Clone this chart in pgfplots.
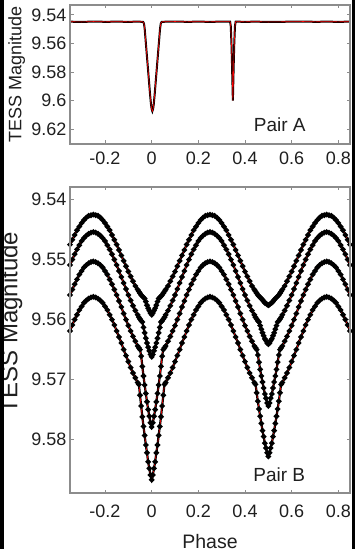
\documentclass[border=0pt]{standalone}
\usepackage{pgfplots}
\pgfplotsset{compat=1.18}
\usepackage{pgfplotstable}
\usepackage{fontspec}
\setmainfont{Liberation Sans}
\definecolor{axgray}{RGB}{140,140,140}
\definecolor{txt}{gray}{0.12}

\pgfplotstableread{
ph m
-0.350 9.5447
-0.300 9.5449
-0.250 9.5446
-0.200 9.5448
-0.150 9.5447
-0.100 9.5448
-0.060 9.5447
-0.037 9.5448
-0.033 9.5460
-0.030 9.5495
-0.027 9.5555
-0.022 9.5655
-0.017 9.5755
-0.012 9.5855
-0.007 9.5955
-0.003 9.6025
0.000 9.6060
0.003 9.6075
0.006 9.6060
0.009 9.6025
0.013 9.5955
0.018 9.5855
0.023 9.5755
0.028 9.5655
0.033 9.5555
0.036 9.5495
0.039 9.5460
0.043 9.5448
0.070 9.5447
0.100 9.5446
0.150 9.5448
0.200 9.5447
0.250 9.5448
0.300 9.5447
0.336 9.5447
0.339 9.5478
0.342 9.5600
0.344 9.5720
0.346 9.5860
0.348 9.6000
0.350 9.5860
0.352 9.5720
0.354 9.5600
0.357 9.5478
0.360 9.5447
0.400 9.5448
0.450 9.5447
0.500 9.5449
0.550 9.5448
0.600 9.5447
0.650 9.5446
0.700 9.5448
0.750 9.5447
0.800 9.5448
0.850 9.5447
}\pairA

\pgfplotstableread{
ph c1 c2 c3 c4
-0.35 9.5476 9.5510 9.5560 9.5620
-0.34 9.5468 9.5501 9.5551 9.5610
-0.33 9.5460 9.5492 9.5542 9.5601
-0.32 9.5452 9.5484 9.5534 9.5593
-0.31 9.5446 9.5477 9.5526 9.5585
-0.30 9.5440 9.5470 9.5520 9.5579
-0.29 9.5435 9.5465 9.5514 9.5573
-0.28 9.5431 9.5461 9.5510 9.5569
-0.27 9.5428 9.5458 9.5507 9.5566
-0.26 9.5427 9.5456 9.5505 9.5564
-0.25 9.5426 9.5455 9.5504 9.5563
-0.24 9.5427 9.5456 9.5505 9.5564
-0.23 9.5428 9.5458 9.5507 9.5566
-0.22 9.5431 9.5461 9.5510 9.5569
-0.21 9.5435 9.5465 9.5514 9.5573
-0.20 9.5440 9.5470 9.5520 9.5579
-0.19 9.5446 9.5477 9.5526 9.5585
-0.18 9.5452 9.5484 9.5534 9.5593
-0.17 9.5460 9.5492 9.5542 9.5601
-0.16 9.5468 9.5501 9.5551 9.5610
-0.15 9.5476 9.5510 9.5560 9.5620
-0.14 9.5485 9.5520 9.5570 9.5630
-0.13 9.5494 9.5530 9.5580 9.5640
-0.12 9.5503 9.5540 9.5591 9.5651
-0.11 9.5512 9.5550 9.5601 9.5661
-0.10 9.5521 9.5560 9.5611 9.5671
-0.09 9.5529 9.5569 9.5620 9.5681
-0.08 9.5537 9.5578 9.5629 9.5690
-0.07 9.5545 9.5586 9.5637 9.5698
-0.060 9.5551 9.5593 9.5645 9.5706
-0.055 9.5554 9.5597 9.5648 9.5709
-0.050 9.5557 9.5600 9.5651 9.5727
-0.045 9.5560 9.5603 9.5662 9.5745
-0.040 9.5562 9.5605 9.5679 9.5763
-0.035 9.5564 9.5614 9.5695 9.5779
-0.030 9.5566 9.5623 9.5710 9.5794
-0.025 9.5571 9.5632 9.5724 9.5810
-0.020 9.5577 9.5640 9.5738 9.5823
-0.015 9.5582 9.5647 9.5751 9.5838
-0.010 9.5586 9.5653 9.5762 9.5849
-0.005 9.5590 9.5659 9.5773 9.5860
0.000 9.5593 9.5663 9.5780 9.5868
0.005 9.5590 9.5659 9.5773 9.5860
0.010 9.5586 9.5653 9.5762 9.5849
0.015 9.5582 9.5647 9.5751 9.5838
0.020 9.5577 9.5640 9.5738 9.5823
0.025 9.5571 9.5632 9.5724 9.5810
0.030 9.5566 9.5623 9.5710 9.5794
0.035 9.5564 9.5614 9.5695 9.5779
0.040 9.5562 9.5605 9.5679 9.5763
0.045 9.5560 9.5603 9.5662 9.5745
0.050 9.5557 9.5600 9.5651 9.5727
0.055 9.5554 9.5597 9.5648 9.5709
0.060 9.5551 9.5593 9.5645 9.5706
0.07 9.5545 9.5586 9.5637 9.5698
0.08 9.5537 9.5578 9.5629 9.5690
0.09 9.5529 9.5569 9.5620 9.5681
0.10 9.5521 9.5560 9.5611 9.5671
0.11 9.5512 9.5550 9.5601 9.5661
0.12 9.5503 9.5540 9.5591 9.5651
0.13 9.5494 9.5530 9.5580 9.5640
0.14 9.5485 9.5520 9.5570 9.5630
0.15 9.5476 9.5510 9.5560 9.5620
0.16 9.5468 9.5501 9.5551 9.5610
0.17 9.5460 9.5492 9.5542 9.5601
0.18 9.5452 9.5484 9.5534 9.5593
0.19 9.5446 9.5477 9.5526 9.5585
0.20 9.5440 9.5470 9.5520 9.5579
0.21 9.5435 9.5465 9.5514 9.5573
0.22 9.5431 9.5461 9.5510 9.5569
0.23 9.5428 9.5458 9.5507 9.5566
0.24 9.5427 9.5456 9.5505 9.5564
0.25 9.5426 9.5455 9.5504 9.5563
0.26 9.5427 9.5456 9.5505 9.5564
0.27 9.5428 9.5458 9.5507 9.5566
0.28 9.5431 9.5461 9.5510 9.5569
0.29 9.5435 9.5465 9.5514 9.5573
0.30 9.5440 9.5470 9.5520 9.5579
0.31 9.5446 9.5477 9.5526 9.5585
0.32 9.5452 9.5484 9.5534 9.5593
0.33 9.5460 9.5492 9.5542 9.5601
0.34 9.5468 9.5501 9.5551 9.5610
0.35 9.5476 9.5510 9.5560 9.5620
0.36 9.5485 9.5520 9.5570 9.5630
0.37 9.5494 9.5530 9.5580 9.5640
0.38 9.5503 9.5540 9.5591 9.5651
0.39 9.5512 9.5550 9.5601 9.5661
0.40 9.5521 9.5560 9.5611 9.5671
0.41 9.5529 9.5569 9.5620 9.5681
0.42 9.5537 9.5578 9.5629 9.5690
0.43 9.5545 9.5586 9.5637 9.5698
0.440 9.5551 9.5593 9.5645 9.5706
0.445 9.5554 9.5597 9.5648 9.5709
0.450 9.5557 9.5600 9.5651 9.5723
0.455 9.5560 9.5603 9.5660 9.5737
0.460 9.5562 9.5605 9.5672 9.5750
0.465 9.5564 9.5611 9.5684 9.5762
0.470 9.5566 9.5617 9.5695 9.5774
0.475 9.5568 9.5623 9.5705 9.5786
0.480 9.5571 9.5628 9.5715 9.5796
0.485 9.5573 9.5633 9.5725 9.5807
0.490 9.5574 9.5636 9.5732 9.5815
0.495 9.5576 9.5640 9.5740 9.5823
0.500 9.5577 9.5642 9.5745 9.5829
0.505 9.5576 9.5640 9.5740 9.5823
0.510 9.5574 9.5636 9.5732 9.5815
0.515 9.5573 9.5633 9.5725 9.5807
0.520 9.5571 9.5628 9.5715 9.5796
0.525 9.5568 9.5623 9.5705 9.5786
0.530 9.5566 9.5617 9.5695 9.5774
0.535 9.5564 9.5611 9.5684 9.5762
0.540 9.5562 9.5605 9.5672 9.5750
0.545 9.5560 9.5603 9.5660 9.5737
0.550 9.5557 9.5600 9.5651 9.5723
0.555 9.5554 9.5597 9.5648 9.5709
0.560 9.5551 9.5593 9.5645 9.5706
0.57 9.5545 9.5586 9.5637 9.5698
0.58 9.5537 9.5578 9.5629 9.5690
0.59 9.5529 9.5569 9.5620 9.5681
0.60 9.5521 9.5560 9.5611 9.5671
0.61 9.5512 9.5550 9.5601 9.5661
0.62 9.5503 9.5540 9.5591 9.5651
0.63 9.5494 9.5530 9.5580 9.5640
0.64 9.5485 9.5520 9.5570 9.5630
0.65 9.5476 9.5510 9.5560 9.5620
0.66 9.5468 9.5501 9.5551 9.5610
0.67 9.5460 9.5492 9.5542 9.5601
0.68 9.5452 9.5484 9.5534 9.5593
0.69 9.5446 9.5477 9.5526 9.5585
0.70 9.5440 9.5470 9.5520 9.5579
0.71 9.5435 9.5465 9.5514 9.5573
0.72 9.5431 9.5461 9.5510 9.5569
0.73 9.5428 9.5458 9.5507 9.5566
0.74 9.5427 9.5456 9.5505 9.5564
0.75 9.5426 9.5455 9.5504 9.5563
0.76 9.5427 9.5456 9.5505 9.5564
0.77 9.5428 9.5458 9.5507 9.5566
0.78 9.5431 9.5461 9.5510 9.5569
0.79 9.5435 9.5465 9.5514 9.5573
0.80 9.5440 9.5470 9.5520 9.5579
0.81 9.5446 9.5477 9.5526 9.5585
0.82 9.5452 9.5484 9.5534 9.5593
0.83 9.5460 9.5492 9.5542 9.5601
0.84 9.5468 9.5501 9.5551 9.5610
0.85 9.5476 9.5510 9.5560 9.5620
}\pairB

\pgfplotsset{
  mystyle/.style={
    scale only axis, width=280bp,
    xmin=-0.35, xmax=0.85, y dir=reverse,
    axis on top,
    xtick={-0.2,0,0.2,0.4,0.6,0.8}, xticklabels={-0.2,0,0.2,0.4,0.6,0.8},
    axis line style={color=axgray, line width=1bp},
    every tick/.style={color=axgray, line width=1bp}, major tick length=3.5bp,
    tick label style={font=\fontsize{18bp}{20bp}\selectfont, text=txt},
  },
  datastyle/.style={black, line width=2.2bp, smooth, mark=*, mark size=1.5bp, mark options={draw=none, fill=black}},
  modelstyle/.style={red, line width=0.6bp, smooth},
}

\begin{document}
\begin{tikzpicture}
\path[use as bounding box] (0bp,0bp) rectangle (355bp,549bp);
\begin{axis}[mystyle,
  at={(70bp,405bp)}, anchor=south west, height=139bp,
  ymin=9.533, ymax=9.6305,
  ytick={9.54,9.56,9.58,9.6,9.62}, yticklabels={9.54,9.56,9.58,9.6,9.62},
  xticklabel shift=4bp,
  ylabel={TESS Magnitude},
  ylabel style={font=\fontsize{18bp}{20bp}\selectfont, text=txt, at={(axis description cs:-0.19,0.5)}, anchor=center},
]
\addplot[black, line width=2bp] table[x=ph, y=m]{\pairA};
\addplot[red, line width=0.6bp] table[x=ph, y=m]{\pairA};
\node[font=\fontsize{19bp}{21bp}\selectfont, text=txt] at (axis cs:0.549,9.6172) {Pair A};
\end{axis}
\begin{axis}[mystyle,
  at={(70bp,56bp)}, anchor=south west, height=306bp,
  ymin=9.538, ymax=9.589,
  ytick={9.54,9.55,9.56,9.57,9.58}, yticklabels={9.54,9.55,9.56,9.57,9.58},
  xticklabel shift=8bp,
  xlabel={Phase},
  xlabel style={font=\fontsize{19.5bp}{21bp}\selectfont, text=txt, at={(axis description cs:0.5,-0.18)}, anchor=base},
  ylabel={TESS Magnitude},
  ylabel style={font=\fontsize{24bp}{26bp}\selectfont, text=txt, at={(axis description cs:-0.21,0.557)}, anchor=center},
]
\addplot[datastyle] table[x=ph, y=c1]{\pairB};
\addplot[datastyle] table[x=ph, y=c2]{\pairB};
\addplot[datastyle] table[x=ph, y=c3]{\pairB};
\addplot[datastyle] table[x=ph, y=c4]{\pairB};
\addplot[modelstyle] table[x=ph, y=c1]{\pairB};
\addplot[modelstyle] table[x=ph, y=c2]{\pairB};
\addplot[modelstyle] table[x=ph, y=c3]{\pairB};
\addplot[modelstyle] table[x=ph, y=c4]{\pairB};
\node[font=\fontsize{19bp}{21bp}\selectfont, text=txt] at (axis cs:0.547,9.586) {Pair B};
\end{axis}
\draw[axgray, line width=1.1bp] (70bp,405bp) rectangle (350bp,544bp);
\draw[axgray, line width=1.1bp] (70bp,56bp) rectangle (350bp,362bp);
\fill[black] (0bp,0bp) rectangle (3.5bp,549bp);
\fill[black] (351.5bp,0bp) rectangle (355bp,549bp);
\end{tikzpicture}
\end{document}
